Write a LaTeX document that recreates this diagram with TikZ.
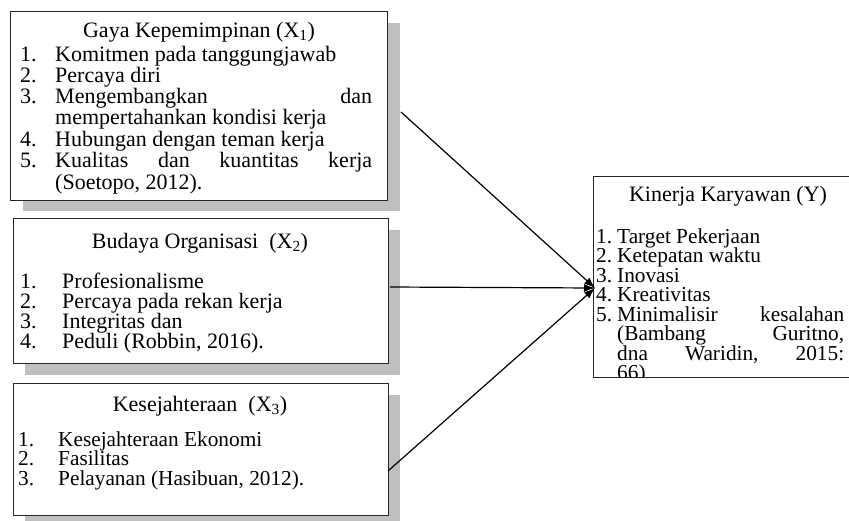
\documentclass[tikz,border=0pt]{standalone}
\usepackage{fontspec}
\setmainfont{Liberation Serif}
\usetikzlibrary{arrows.meta}
\begin{document}
\begin{tikzpicture}[x=1pt,y=-1pt,
  box/.style={draw=black!85,line width=1.2pt,fill=white,inner sep=0pt,anchor=north west},
  shade/.style={fill=black!25},
  txt/.style={anchor=base west,inner sep=0pt,font=\fontsize{22}{22}\selectfont},
  txs/.style={anchor=base west,inner sep=0pt,font=\fontsize{21.3}{21.3}\selectfont},
  ttl/.style={anchor=base,inner sep=0pt,font=\fontsize{22}{22}\selectfont},
  conn/.style={draw=black,line width=1.2pt,-{Latex[length=11pt,width=8pt]}}]
\useasboundingbox (0,0) rectangle (849,520);
% shadows
\fill[shade] (23,23) rectangle (400,211);
\fill[shade] (25,230) rectangle (400,375);
\fill[shade] (25,395) rectangle (400,530);
% boxes
\node[box,minimum width=377pt,minimum height=189pt] (g) at (10,11) {};
\node[box,minimum width=375pt,minimum height=145pt] (b) at (13,218) {};
\node[box,minimum width=375pt,minimum height=132pt] (k) at (13,383) {};
\node[box,minimum width=262pt,minimum height=201pt] (y) at (593,176) {};
% box 1 text
\node[ttl] (g0) at (199,37) {Gaya Kepemimpinan (X\textsubscript{1})};
\node[txt] at (20,61) {1.};
\node[txt] at (55,61) {Komitmen pada tanggungjawab};
\node[txt] at (20,82) {2.};
\node[txt] at (55,82) {Percaya diri};
\node[txt] at (20,103) {3.};
\node[txt] at (55,103) {\makebox[317pt][s]{Mengembangkan\hfill dan}};
\node[txt] at (55,124) {mempertahankan kondisi kerja};
\node[txt] at (20,146) {4.};
\node[txt] at (55,146) {Hubungan dengan teman kerja};
\node[txt] at (20,167) {5.};
\node[txt] at (55,167) {\makebox[317pt][s]{Kualitas\hfill dan\hfill kuantitas\hfill kerja}};
\node[txt] at (55,189) {(Soetopo, 2012).};
% box 2 text
\node[ttl] (b0) at (200,248) {Budaya Organisasi\ \ (X\textsubscript{2})};
\node[txt] at (20,288) {1.};
\node[txt] at (62,288) {Profesionalisme};
\node[txt] at (20,308) {2.};
\node[txt] at (62,308) {Percaya pada rekan kerja};
\node[txt] at (20,328) {3.};
\node[txt] at (62,328) {Integritas dan};
\node[txt] at (20,348) {4.};
\node[txt] at (62,348) {Peduli (Robbin, 2016).};
% box 3 text
\node[ttl] (k0) at (200,411) {Kesejahteraan\ \ (X\textsubscript{3})};
\node[txs] at (18,446) {1.};
\node[txs] at (58,446) {Kesejahteraan Ekonomi};
\node[txs] at (18,465.5) {2.};
\node[txs] at (58,465.5) {Fasilitas};
\node[txs] at (18,485) {3.};
\node[txs] at (58,485) {Pelayanan (Hasibuan, 2012).};
% box Y text
\begin{scope}
\clip (593,176) rectangle (849,377);
\node[ttl] (y0) at (728,201) {Kinerja Karyawan (Y)};
\node[txs] at (596,243) {1.};
\node[txs] at (617,243) {Target Pekerjaan};
\node[txs] at (596,262.5) {2.};
\node[txs] at (617,262.5) {Ketepatan waktu};
\node[txs] at (596,282) {3.};
\node[txs] at (617,282) {Inovasi};
\node[txs] at (596,301.5) {4.};
\node[txs] at (617,301.5) {Kreativitas};
\node[txs] at (596,321) {5.};
\node[txs] at (617,321) {\makebox[227pt][s]{Minimalisir\hfill kesalahan}};
\node[txs] at (617,340.5) {\makebox[227pt][s]{(Bambang\hfill Guritno,}};
\node[txs] at (617,360) {\makebox[227pt][s]{dna\hfill Waridin,\hfill 2015:}};
\node[txs] at (617,379.5) {66)};
\end{scope}
% connectors
\coordinate (s1) at (401,112);
\coordinate (s2) at (390,287);
\coordinate (s3) at (388,471);
\coordinate (t) at (595,288);
\draw[conn] (s1) -- (t);
\draw[conn] (s2) -- (t);
\draw[conn] (s3) -- (t);
\end{tikzpicture}
\end{document}
